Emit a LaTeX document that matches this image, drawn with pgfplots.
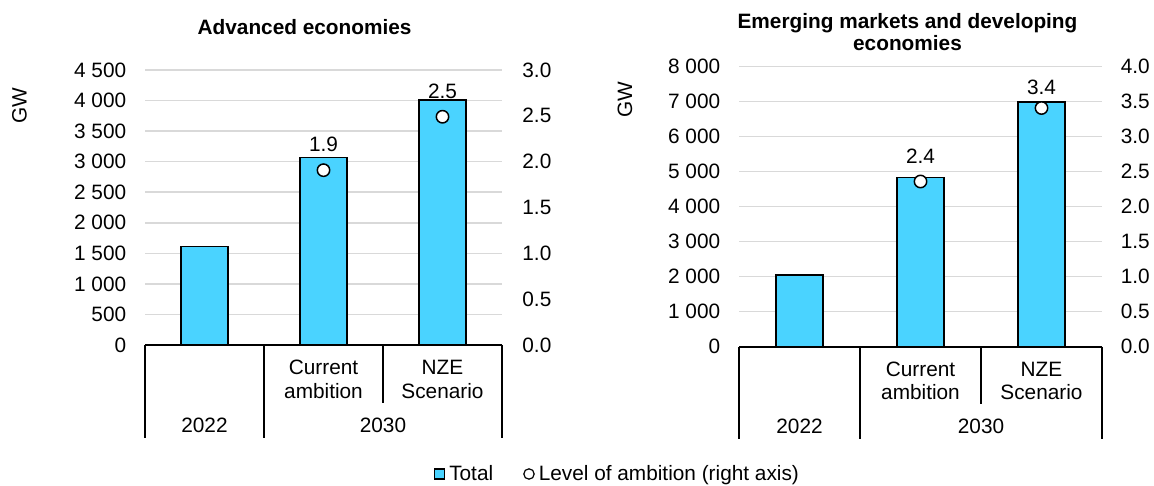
\documentclass[border=0pt]{standalone}
\usepackage{pgfplots}
\pgfplotsset{compat=1.18}
\usepackage{fontspec}
\setmainfont{Liberation Sans}
\definecolor{barcol}{RGB}{74,211,255}
\definecolor{gridcol}{RGB}{217,217,217}
\newcommand{\mf}{\fontsize{10.4}{11.65}\selectfont}
\tikzset{seps/.style={black, line width=0.9pt}}
\begin{document}
\begin{tikzpicture}
\useasboundingbox (0,0) rectangle (577pt,243pt);
\pgfplotsset{
  base/.style={
    scale only axis, clip=false,
    xmin=-0.5, xmax=2.5, ymin=0,
    xtick=\empty,
    major tick length=0pt,
    tick style={draw=none},
    tick label style={font=\mf},
  },
  prim/.style={
    axis x line*=bottom, axis y line*=left,
    y axis line style={draw=none},
    x axis line style={black, line width=0.9pt},
    ymajorgrids, grid style={gridcol, line width=0.75pt},
    yticklabel style={anchor=east, inner sep=0pt, xshift=-9.2pt},
  },
  sec/.style={
    axis y line*=right, axis x line=none,
    y axis line style={draw=none},
    yticklabel style={anchor=west, inner sep=0pt, xshift=#1},
  },
  bars/.style={ybar, bar width=23.75pt, bar shift=0pt, fill=barcol, draw=black, line width=0.8pt, forget plot},
  pts/.style={only marks, mark=*, mark size=3.1pt,
    mark options={fill=white, draw=black, line width=0.75pt},
    nodes near coords, point meta=explicit symbolic,
    visualization depends on={value \thisrow{s}\as\lshift},
    every node near coord/.style={anchor=center, yshift=\lshift pt, font=\mf, inner sep=0pt, text=black}},
}
% ---------------- Left panel: primary axis
\begin{axis}[base, prim,
  at={(72.5pt,70.5pt)}, anchor=south west,
  width=178.5pt, height=137.5pt,
  ymax=4500, ytick={0,500,1000,1500,2000,2500,3000,3500,4000,4500},
  yticklabels={0,500,1 000,1 500,2 000,2 500,3 000,3 500,4 000,4 500},
  legend style={at={(axis description cs:1.3263,-0.4691)}, anchor=center,
    draw=none, fill=none, legend columns=-1, font=\mf,
    /tikz/every even column/.append style={column sep=13pt}},
]
\addplot[bars] coordinates {(0,1610) (1,3070) (2,4010)};
\addlegendimage{legend image code/.code={\draw[fill=barcol,draw=black,line width=0.6pt] (0pt,-2.5pt) rectangle (5pt,2.5pt);}}
\addlegendentry{Total}
\addlegendimage{legend image code/.code={\draw[fill=white,draw=black,line width=0.6pt] (2.75pt,0pt) circle (2.6pt);}}
\addlegendentry{Level of ambition (right axis)}
\draw[seps] (axis cs:-0.5,0) -- ++(0pt,-46.5pt);
\draw[seps] (axis cs:0.5,0) -- ++(0pt,-46.5pt);
\draw[seps] (axis cs:1.5,0) -- ++(0pt,-29pt);
\draw[seps] (axis cs:2.5,0) -- ++(0pt,-46.5pt);
\node[font=\mf, align=center, yshift=-17.2pt] at (axis cs:1,0) {Current\\ambition};
\node[font=\mf, align=center, yshift=-17.2pt] at (axis cs:2,0) {NZE\\Scenario};
\node[font=\mf, yshift=-40.25pt] at (axis cs:0,0) {2022};
\node[font=\mf, yshift=-40.25pt] at (axis cs:1.5,0) {2030};
\end{axis}
% ---------------- Left panel: secondary axis
\begin{axis}[base, sec=10pt,
  at={(72.5pt,70.5pt)}, anchor=south west,
  width=178.5pt, height=137.5pt,
  ymax=3, ytick={0,0.5,1,1.5,2,2.5,3},
  yticklabels={0.0,0.5,1.0,1.5,2.0,2.5,3.0},
]
\addplot[pts] table[x=x, y=y, meta=lab]{
x y lab s
1 1.907 1.9 12.85
2 2.49 2.5 12.8
};
\end{axis}
% ---------------- Right panel: primary axis
\begin{axis}[base, prim,
  at={(369.5pt,69.65pt)}, anchor=south west,
  width=181.5pt, height=140pt,
  ymax=8000, ytick={0,1000,2000,3000,4000,5000,6000,7000,8000},
  yticklabels={0,1 000,2 000,3 000,4 000,5 000,6 000,7 000,8 000},
]
\addplot[bars] coordinates {(0,2050) (1,4830) (2,7000)};
\draw[seps] (axis cs:-0.5,0) -- ++(0pt,-46.2pt);
\draw[seps] (axis cs:0.5,0) -- ++(0pt,-46.2pt);
\draw[seps] (axis cs:1.5,0) -- ++(0pt,-28.8pt);
\draw[seps] (axis cs:2.5,0) -- ++(0pt,-46.2pt);
\node[font=\mf, align=center, yshift=-17.2pt] at (axis cs:1,0) {Current\\ambition};
\node[font=\mf, align=center, yshift=-17.2pt] at (axis cs:2,0) {NZE\\Scenario};
\node[font=\mf, yshift=-40pt] at (axis cs:0,0) {2022};
\node[font=\mf, yshift=-40pt] at (axis cs:1.5,0) {2030};
\end{axis}
% ---------------- Right panel: secondary axis
\begin{axis}[base, sec=9.2pt,
  at={(369.5pt,69.65pt)}, anchor=south west,
  width=181.5pt, height=140pt,
  ymax=4, ytick={0,0.5,1,1.5,2,2.5,3,3.5,4},
  yticklabels={0.0,0.5,1.0,1.5,2.0,2.5,3.0,3.5,4.0},
]
\addplot[pts] table[x=x, y=y, meta=lab]{
x y lab s
1 2.36 2.4 12.4
2 3.41 3.4 10.25
};
\end{axis}
% ---------------- Titles and axis labels
\node[font=\fontsize{10.4}{11.15}\selectfont\bfseries] at (152.3pt,229.65pt) {Advanced economies};
\node[font=\fontsize{10.4}{11.15}\selectfont\bfseries, align=center] at (453.75pt,226.9pt) {Emerging markets and developing\\economies};
\node[font=\mf, rotate=90] at (9.75pt,190pt) {GW};
\node[font=\mf, rotate=90] at (312.5pt,193pt) {GW};
\end{tikzpicture}
\end{document}
